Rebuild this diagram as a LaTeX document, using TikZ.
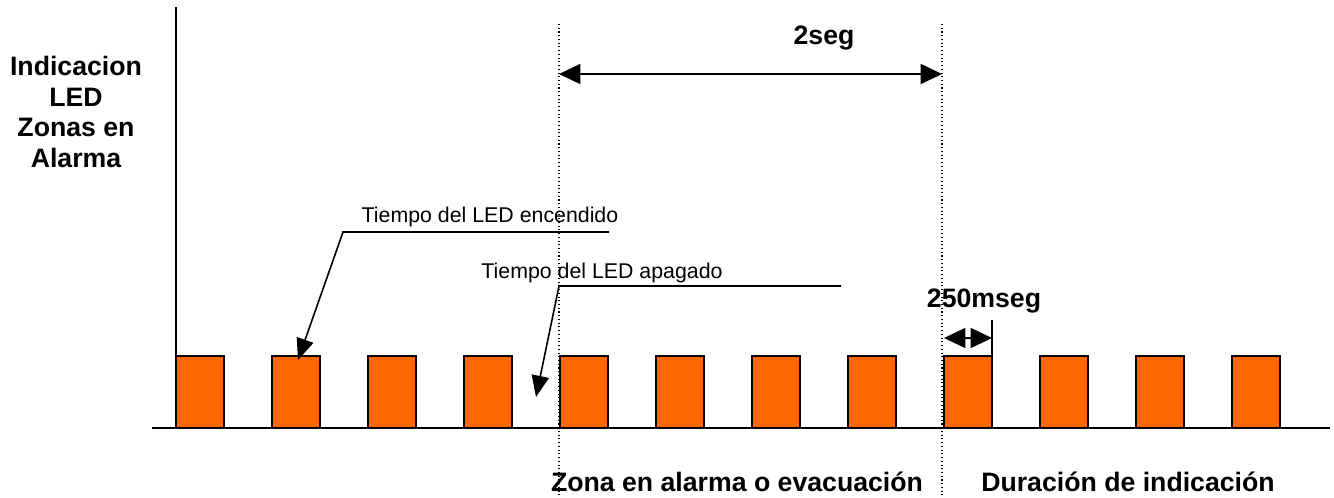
\documentclass[tikz,border=0pt]{standalone}
\usepackage{fontspec}
\setmainfont{Liberation Sans}
\usetikzlibrary{arrows.meta}
\definecolor{ledorange}{HTML}{FF6600}

\begin{document}
\begin{tikzpicture}[x=0.75pt,y=-0.75pt,
	pulse/.style={draw=black,line width=1.1pt,fill=ledorange},
	axisline/.style={line width=1.1pt},
	marker/.style={dotted,line width=0.8pt},
	spanarrow/.style={line width=1.2pt,{Triangle[length=16pt,width=15pt]}-{Triangle[length=16pt,width=15pt]}},
	callout/.style={line width=1.2pt,-{Triangle[length=16pt,width=13pt]}},
	boldlabel/.style={inner sep=0pt,anchor=base,font=\bfseries\fontsize{20}{23}\selectfont},
	smalllabel/.style={inner sep=0pt,anchor=base,font=\fontsize{16}{18}\selectfont}]
	\useasboundingbox (0,0) rectangle (1334,497);
	%y-axis label
	\node[inner sep=0pt,align=center,font=\bfseries\fontsize{20}{23}\selectfont] (ylabel) at (76,112)
		{Indicacion\\LED\\Zonas en\\Alarma};
	%axes
	\coordinate (ytop) at (176,7);
	\coordinate (origin) at (176,428);
	\coordinate (xleft) at (152,428);
	\coordinate (xright) at (1330,428);
	\draw[axisline] (ytop) -- (origin);
	%pulses
	\foreach \i in {0,...,11}
		\draw[pulse] ({176+96*\i},356) rectangle ++(48,72);
	\draw[axisline] (xleft) -- (xright);
	%dotted markers
	\coordinate (m1top) at (559,24);
	\coordinate (m1bot) at (559,497);
	\coordinate (m2top) at (942,24);
	\coordinate (m2bot) at (942,497);
	\draw[marker] (m1top) -- (m1bot);
	\draw[marker] (m2top) -- (m2bot);
	%2 seconds span
	\coordinate (span1) at (559,74);
	\coordinate (span2) at (942,74);
	\draw[spanarrow] (span1) -- (span2);
	\node[boldlabel] (twoseg) at (824,44) {2seg};
	%250 ms span
	\coordinate (ms1) at (944,338);
	\coordinate (ms2) at (992,338);
	\coordinate (mstop) at (992,320);
	\coordinate (msbot) at (992,356);
	\draw[line width=1pt] (mstop) -- (msbot);
	\draw[spanarrow] (ms1) -- (ms2);
	\node[boldlabel] (msseg) at (984,307) {250mseg};
	%callouts
	\node[smalllabel] (onlabel) at (490,222) {Tiempo del LED encendido};
	\coordinate (onelbow) at (343,232);
	\coordinate (onend) at (609,232);
	\coordinate (ontip) at (298,360);
	\draw[callout] (onend) -- (onelbow) -- (ontip);
	\node[smalllabel] (offlabel) at (602,278) {Tiempo del LED apagado};
	\coordinate (offelbow) at (559,286);
	\coordinate (offend) at (841,286);
	\coordinate (offtip) at (536,397);
	\draw[callout] (offend) -- (offelbow) -- (offtip);
	%bottom labels
	\node[boldlabel] (zonelabel) at (737,491) {Zona en alarma o evacuación};
	\node[boldlabel] (durlabel) at (1128,491) {Duración de indicación};
\end{tikzpicture}
\end{document}
